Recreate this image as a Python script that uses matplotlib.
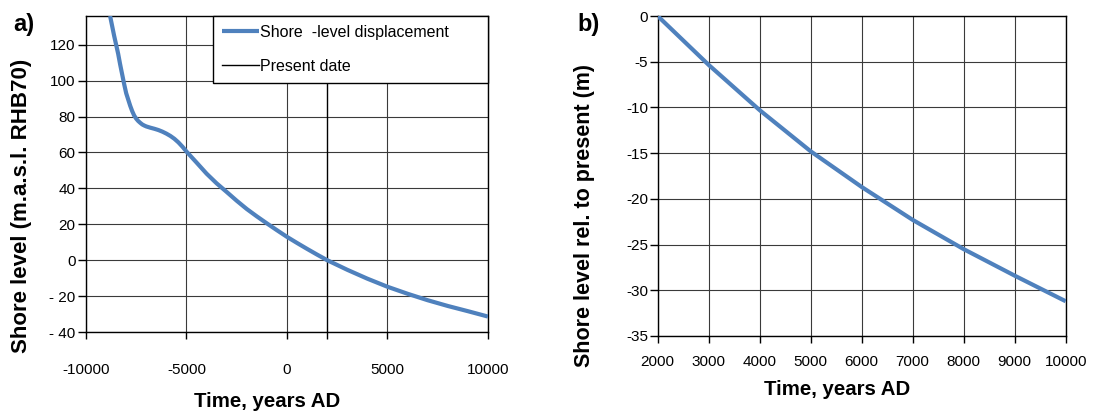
import numpy as np
import matplotlib
matplotlib.use("Agg")
import matplotlib.pyplot as plt

plt.rcParams['font.family'] = ['Liberation Sans', 'DejaVu Sans']
plt.rcParams['axes.unicode_minus'] = False

# panel a) shore-level displacement (m.a.s.l. RHB70)
years_a = [-8800, -8700, -8600, -8500, -8400, -8300, -8200, -8100, -8000, -7900,
           -7800, -7700, -7600, -7500, -7400, -7300, -7200, -7100, -7000, -6800,
           -6600, -6400, -6200, -6000, -5800, -5600, -5400, -5200, -5000, -4500,
           -4000, -3500, -3000, -2500, -2000, -1500, -1000, -500, 0, 500,
           1000, 1500, 2000, 3000, 4000, 5000, 6000, 7000, 8000, 9000, 10000]
level_a = [136, 130.5, 125, 120, 115, 109, 103.5, 98, 93, 89.5,
           86, 83, 80.5, 78.8, 77.5, 76.5, 75.6, 75, 74.5, 73.8,
           73.2, 72.5, 71.6, 70.5, 69.2, 67.6, 65.6, 63.2, 60.5, 54.4,
           48.2, 42.8, 38, 33.1, 28.5, 24.4, 20.5, 16.7, 13, 9.6,
           6.3, 3.1, 0, -5.35, -10.3, -14.8, -18.7, -22.3, -25.5, -28.4, -31.4]
present_x = [2000, 2000]
present_y = [-40, 136]

# panel b) shore level relative to present
years_b = [2000, 3000, 4000, 5000, 6000, 7000, 8000, 9000, 10000]
level_b = [0, -5.35, -10.3, -14.8, -18.7, -22.3, -25.5, -28.4, -31.2]

xticks_a = [-10000, -5000, 0, 5000, 10000]
yticks_a = [-40, -20, 0, 20, 40, 60, 80, 100, 120]
ytick_labels_a = ['- 40', '- 20', '0', '20', '40', '60', '80', '100', '120']
xticks_b = [2000, 3000, 4000, 5000, 6000, 7000, 8000, 9000, 10000]
yticks_b = [-35, -30, -25, -20, -15, -10, -5, 0]

blue = '#4F81BD'
grid_kw = dict(color='#3a3a3a', linewidth=0.8)

fig = plt.figure(figsize=(11.11, 4.15), dpi=100)

# ---- panel a ----
ax1 = fig.add_axes([0.0774, 0.2, 0.3618, 0.7614])
ax1.plot(years_a, level_a, color=blue, linewidth=3, label='Shore  -level displacement',
         solid_capstyle='butt', zorder=3)
ax1.plot(present_x, present_y, color='black', linewidth=1, label='Present date', zorder=2)
ax1.set_xlim(-10000, 10000)
ax1.set_ylim(-40, 136)
ax1.set_xticks(xticks_a)
ax1.set_xticks([2000], minor=True)
ax1.set_yticks(yticks_a)
ax1.set_yticklabels(ytick_labels_a)
ax1.grid(True, which='major', **grid_kw)
ax1.tick_params(axis='x', which='both', direction='out', length=5, width=1, pad=17, labelsize=11)
ax1.tick_params(axis='y', direction='out', length=6, width=1, pad=1.5, labelsize=11)
ax1.set_xlabel('Time, years AD', fontsize=14.7, fontweight='bold')
ax1.set_ylabel('Shore level (m.a.s.l. RHB70)', fontsize=16, fontweight='bold')
ax1.xaxis.set_label_coords(0.45, -0.19)
ax1.yaxis.set_label_coords(-0.134, 0.399)
leg = ax1.legend(loc='upper right', bbox_to_anchor=(0.316, 0.5, 0.684, 0.5), mode='expand',
                 borderaxespad=0, fancybox=False, edgecolor='black', framealpha=1,
                 fontsize=11.5, handlelength=2.3, handletextpad=0.1, labelspacing=1.2,
                 borderpad=0.55)
leg.get_frame().set_linewidth(1.0)
for s in ax1.spines.values():
    s.set_linewidth(1)
    s.set_color('black')

# ---- panel b ----
ax2 = fig.add_axes([0.592, 0.1904, 0.3672, 0.771])
ax2.plot(years_b, level_b, color=blue, linewidth=3, solid_capstyle='butt', zorder=3)
ax2.set_xlim(2000, 10000)
ax2.set_ylim(-35, 0)
ax2.set_xticks(xticks_b)
ax2.set_yticks(yticks_b)
ax2.grid(True, **grid_kw)
ax2.tick_params(axis='x', direction='out', length=5, width=1, pad=9, labelsize=11)
ax2.tick_params(axis='y', direction='out', length=6, width=1, pad=1, labelsize=11)
ax2.set_xlabel('Time, years AD', fontsize=14.7, fontweight='bold')
ax2.set_ylabel('Shore level rel. to present (m)', fontsize=15.5, fontweight='bold')
ax2.xaxis.set_label_coords(0.44, -0.1375)
ax2.yaxis.set_label_coords(-0.154, 0.378)
for s in ax2.spines.values():
    s.set_linewidth(1)
    s.set_color('black')

fig.text(0.012, 0.94, 'a)', fontsize=17, fontweight='bold', va='center', ha='left')
fig.text(0.520, 0.94, 'b)', fontsize=17, fontweight='bold', va='center', ha='left')

fig.savefig('out.png', dpi=100)
